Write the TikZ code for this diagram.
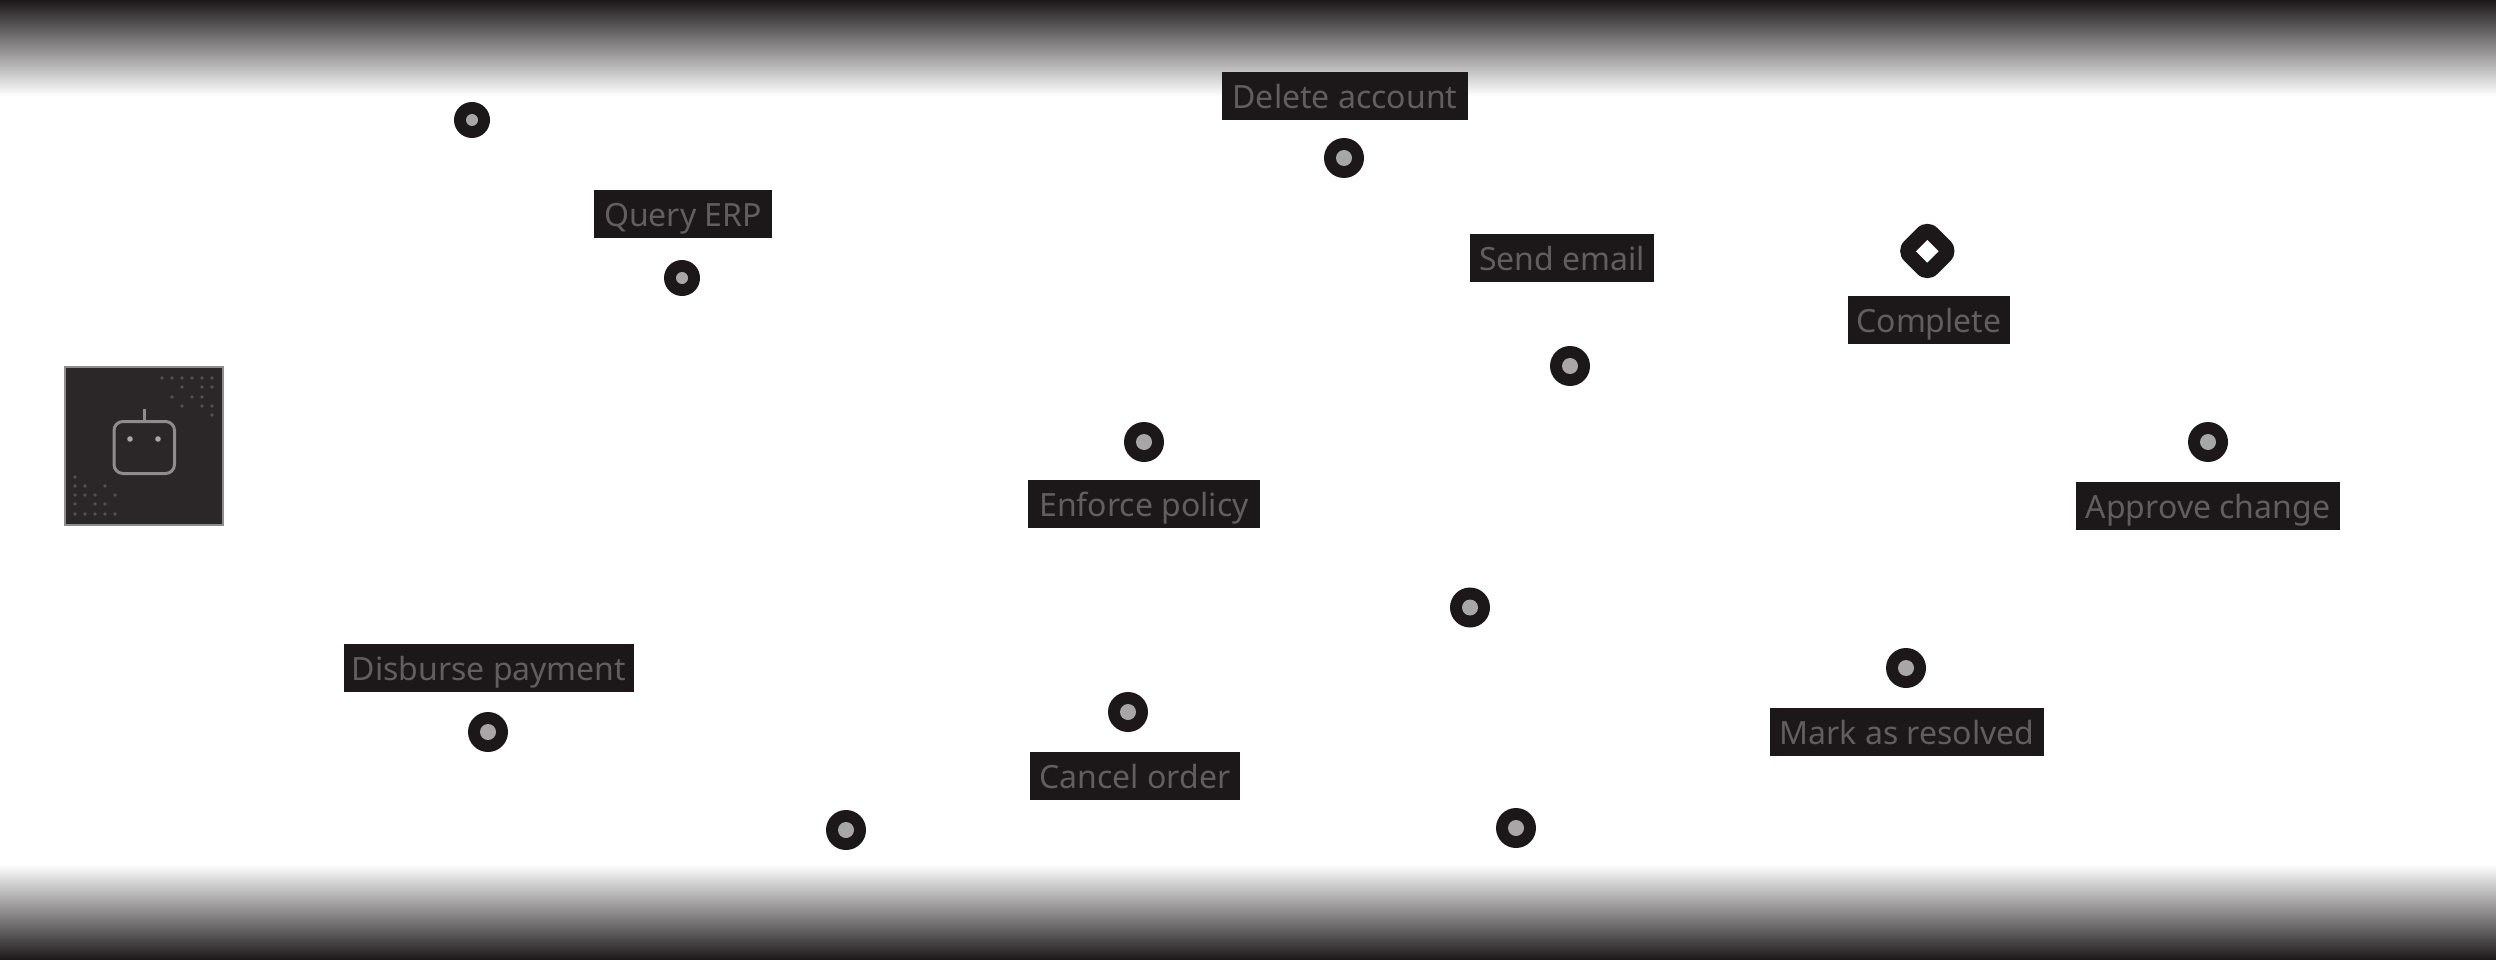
\documentclass[tikz,border=0pt]{standalone}
\usepackage{fontspec}
\setmainfont{Noto Sans}
\definecolor{ink}{HTML}{1C1819}
\definecolor{labeltext}{HTML}{625E60}
\definecolor{core}{HTML}{A8A6A7}
\definecolor{panel}{HTML}{2B2729}
\definecolor{panelline}{HTML}{8E8C8D}
\definecolor{eye}{HTML}{A8A6A7}
\definecolor{speck}{HTML}{545052}
\tikzset{
  x=1pt,y=-1pt,
  labelbox/.style={fill=ink,text=labeltext,font=\fontsize{32}{38}\selectfont,inner sep=0pt,minimum height=48pt,text height=25pt,text depth=0pt,anchor=center},
  ringa/.style={circle,fill=ink,minimum size=36pt,inner sep=0pt},
  ringb/.style={circle,fill=ink,minimum size=40pt,inner sep=0pt},
  corea/.style={circle,fill=core,minimum size=12pt,inner sep=0pt},
  coreb/.style={circle,fill=core,minimum size=16pt,inner sep=0pt},
  speckdot/.style={fill=speck},
}
\newcommand{\lbl}[5]{\node[labelbox,minimum width=#4pt] (#1) at (#2,#3) {#5};}
\begin{document}
\begin{tikzpicture}
\useasboundingbox (0,0) rectangle (2496,960);
\fill[white] (0,0) rectangle (2496,960);
\shade[top color=ink,bottom color=white] (0,0) rectangle (2496,96);
\shade[top color=white,bottom color=ink] (0,864) rectangle (2496,960);
% agent panel
\node[draw=panelline,fill=panel,line width=2pt,minimum size=158pt,inner sep=0pt] (panel) at (144,446) {};
\draw[panelline,line width=3pt,rounded corners=9pt] (114,421.5) rectangle (174.5,473.5);
\draw[panelline,line width=3pt] (144,409) -- (144,421);
\fill[eye] (130,439) circle (2.8);
\fill[eye] (158,439) circle (2.8);
\foreach \x/\y in {162/378,172/378,182/378,192/378,202/378,212/378,
  182/387,202/387,212/387,172/397,192/397,202/397,182/406,202/406,212/406,212/415,
  75/477,75/486,85/486,105/486,75/495,85/495,95/495,115/495,75/504,95/504,105/504,
  75/514,85/514,95/514,105/514,115/514}
  \fill[speckdot] (\x,\y) circle (1.8);
% labels
\lbl{deleteL}{1345}{96}{246}{Delete account}
\lbl{queryL}{683}{214}{178}{Query ERP}
\lbl{sendL}{1562}{258}{184}{Send email}
\lbl{completeL}{1929}{320}{162}{Complete}
\lbl{enforceL}{1144}{504}{232}{Enforce policy}
\lbl{approveL}{2208}{506}{264}{Approve change}
\lbl{disburseL}{489}{668}{290}{Disburse payment}
\lbl{cancelL}{1135}{776}{210}{Cancel order}
\lbl{markL}{1907}{732}{274}{Mark as resolved}
% markers
\foreach \n/\x/\y in {m1/472/120,m2/682/278}{
  \node[ringa] (\n) at (\x,\y) {};
  \node[corea] (\n c) at (\x,\y) {};
}
\foreach \n/\x/\y in {m3/1344/158,m4/1570/366,m5/1144/442,m6/2208/442,m7/1470/607.5,m8/1128/712,m9/1906/668,m10/488/732,m11/846/830,m12/1516/828}{
  \node[ringb] (\n) at (\x,\y) {};
  \node[coreb] (\n c) at (\x,\y) {};
}
% end event
\fill[ink,rounded corners=14pt] (1927.3,218) -- (1960.3,251) -- (1927.3,284) -- (1894.3,251) -- cycle;
\fill[white] (1927.3,240) -- (1938.6,251.3) -- (1927.3,262.6) -- (1916,251.3) -- cycle;
\end{tikzpicture}
\end{document}
